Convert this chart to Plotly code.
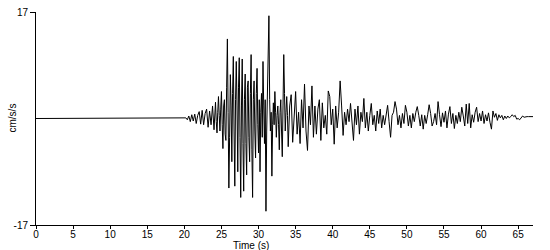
import plotly.graph_objects as go

# Recording is flat (zero) before the onset; then three segments sampled uniformly
PRE_EVENT_TIMES = [0.0]
PRE_EVENT_VALUES = [0.0]

SEG_A_START, SEG_A_DT = 20.0, 0.2   # 20.0 - 23.8 s
SEG_A = [
    0.0, 0.1, -0.2, 0.4, -0.5, 0.6, -0.4, 0.7, -0.8, 0.5,
    1.1, -0.9, 1.3, -1.0, 0.8, 1.5, -1.4, 1.2, -1.0, 2.0,
]

SEG_B_START, SEG_B_DT = 24.0, 0.1   # 24.0 - 33.9 s (strong shaking)
SEG_B = [
    -1.8, 1.5, 2.6, -0.5, -2.3, 1.0, 3.5, 0.5, -2.0, 1.5,        # 24
    4.3, -1.0, -4.8, 2.0, 3.0, -2.5, -3.5, 5.0, 12.7, 1.0,       # 25
    -11.1, -3.0, 7.0, 2.0, -6.9, 4.0, 9.9, -2.0, -10.8, 3.0,     # 26
    9.1, 2.0, -8.5, 5.0, 9.7, -3.0, -12.6, 2.0, 9.5, -4.0,       # 27
    -11.6, 3.0, 7.1, -4.0, -9.0, 5.0, 6.0, -3.0, -6.9, 4.0,      # 28
    10.2, -5.0, -12.6, 3.0, 6.0, -2.0, -6.3, 4.0, 8.0, -1.0,     # 29
    -5.5, 3.0, -8.5, 1.0, 4.0, -3.0, 9.1, 2.0, -4.0, 3.0,        # 30
    -14.8, -2.0, 3.0, 8.0, 16.4, 3.0, -2.0, 1.0, -9.2, -1.0,     # 31
    2.5, -1.0, 4.3, 1.0, -3.0, 0.5, 2.0, -1.0, -5.0, 1.0,        # 32
    3.0, -2.0, -6.1, 2.0, 10.2, 4.0, -2.0, 1.0, 3.5, 0.5,        # 33
]

SEG_C_START, SEG_C_DT = 34.0, 0.2   # 34.0 - 67.0 s (coda)
SEG_C = [
    -4.5, 2.0, 3.8, -3.8, 1.5, 4.3, -2.5, 1.0, -4.0, 3.0,        # 34-36
    -1.5, 5.5, -2.0, -5.1, 2.0, -1.0, 5.2, -3.0, 2.0, -2.5,      # 36-38
    1.5, 3.0, -3.5, 2.5, -1.5, 0.5, -2.5, 4.4, 3.5, -1.0,        # 38-40
    1.5, -4.1, 2.0, -1.5, 1.0, 6.0, 2.0, -2.7, 1.0, -1.0,        # 40-42
    1.5, -0.5, 2.4, -1.5, -3.5, 1.5, -1.0, 2.0, -2.5, 1.0,       # 42-44
    -0.5, 3.2, -1.5, 1.0, -2.0, 0.5, 2.4, -1.0, 0.5, -2.0,       # 44-46
    1.2, -0.8, 1.5, -1.5, 0.5, -1.0, 1.0, 2.1, -0.5, -3.0,       # 46-48
    0.5, 1.0, 2.7, 1.5, -1.0, 0.5, -1.5, 0.8, -0.8, 2.1,         # 48-50
    1.0, -1.2, 0.5, -1.5, 0.8, -0.5, 1.0, 1.9, 0.5, -1.2,        # 50-52
    0.6, -1.7, 0.5, -0.8, 0.6, 2.2, 0.8, -1.2, -0.5, 0.8,        # 52-54
    -1.0, 2.7, 0.6, -1.3, 0.9, -0.6, 1.2, -1.5, 0.7, 1.9,        # 54-56
    -0.8, 0.8, -1.6, 0.5, -0.8, 1.0, -0.5, 1.8, 0.4, -1.2,       # 56-58
    2.3, -0.8, 2.4, -1.5, 0.6, -0.6, 1.0, 1.8, -0.5, 0.8,        # 58-60
    -0.4, 1.2, -0.8, 0.6, -0.4, 0.9, -0.6, -1.7, 1.2, 0.2,       # 60-62
    0.8, -0.3, 0.6, 0.1, 0.5, -0.2, 0.4, 0.0, 0.4, 0.1,          # 62-64
    0.3, 0.6, 0.3, 0.5, -0.1, 0.0, -0.2, 0.2, 0.4, 0.2,          # 64-66
    0.3, 0.3, 0.3, 0.3, 0.3, 0.3,                                # 66-67
]

X_TICKS = [0, 5, 10, 15, 20, 25, 30, 35, 40, 45, 50, 55, 60, 65]
Y_TICKS = [-17, 17]
X_RANGE = [0, 67]
Y_RANGE = [-17, 17]


def seg_times(start, dt, vals):
    return [round(start + dt * i, 3) for i in range(len(vals))]


times = (PRE_EVENT_TIMES + seg_times(SEG_A_START, SEG_A_DT, SEG_A)
         + seg_times(SEG_B_START, SEG_B_DT, SEG_B)
         + seg_times(SEG_C_START, SEG_C_DT, SEG_C))
values = PRE_EVENT_VALUES + SEG_A + SEG_B + SEG_C

FONT = dict(family="Liberation Sans, Arial, sans-serif", size=10, color="black")

fig = go.Figure(
    go.Scatter(x=times, y=values, mode="lines",
               line=dict(color="black", width=1), hoverinfo="skip")
)
fig.update_layout(
    width=550, height=250,
    margin=dict(l=36, r=17, t=6, b=25),
    paper_bgcolor="white", plot_bgcolor="white",
    showlegend=False, font=FONT,
)
fig.update_xaxes(
    range=X_RANGE, tickvals=X_TICKS, ticktext=[str(v) for v in X_TICKS],
    showline=True, linecolor="black", linewidth=1,
    ticks="outside", ticklen=3, tickcolor="black", tickwidth=1,
    ticklabelstandoff=-3,
    showgrid=False, zeroline=False, tickfont=FONT,
)
fig.update_yaxes(
    range=Y_RANGE, tickvals=Y_TICKS, ticktext=[str(v) for v in Y_TICKS],
    showline=True, linecolor="black", linewidth=1,
    ticks="outside", ticklen=5, tickcolor="black", tickwidth=1,
    showgrid=False, zeroline=False, tickfont=FONT,
)
fig.add_annotation(text="Time (s)", xref="paper", yref="paper",
                   x=0.4326, y=0, yshift=-13, xanchor="center", yanchor="top",
                   showarrow=False, font=FONT)
fig.add_annotation(text="cm/s/s", xref="paper", yref="paper",
                   x=0, xshift=-24, y=0.5, xanchor="center", yanchor="middle",
                   textangle=-90, showarrow=False, font=FONT)
fig.write_html("out.html")
